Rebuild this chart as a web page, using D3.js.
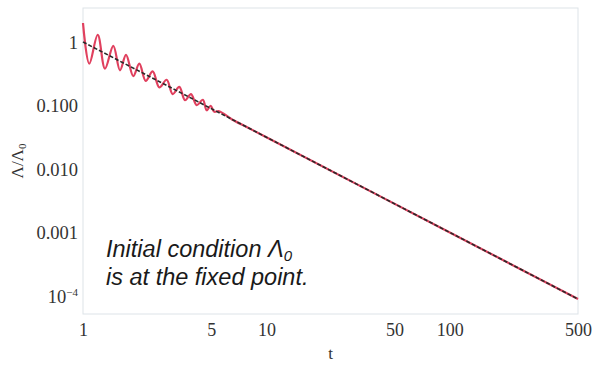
<!DOCTYPE html>
<html><head><meta charset="utf-8">
<script src="https://cdn.jsdelivr.net/npm/d3@7"></script>
<style>body{margin:0;background:#fff}svg{display:block}</style>
</head><body>
<svg id="c" width="597" height="365"></svg>
<script>
// Data
const xTicks = [1, 5, 10, 50, 100, 500];
const yTicks = [1, 0.1, 0.01, 0.001, 0.0001];
const yTickLabels = ["1", "0.100", "0.010", "0.001", "10^-4"];

// power-law reference (black dashed)
const refT = [1, 10, 100, 500];
const refV = [1, 0.0316, 0.00100, 0.0000894];

// numerical solution (red), extremes of the damped oscillation then the tail
const solT = [1, 1.082, 1.203, 1.318, 1.463, 1.591, 1.716, 1.88, 2.028, 2.197, 2.399, 2.606, 2.86, 3.083, 3.35, 3.6, 3.88, 4.17, 4.5, 4.73, 4.97, 5.18, 5.52, 6.5, 8, 10, 100, 500];
const solV = [1.99, 0.455, 1.30, 0.380, 0.870, 0.358, 0.628, 0.290, 0.455, 0.244, 0.344, 0.193, 0.254, 0.151, 0.196, 0.121, 0.151, 0.101, 0.123, 0.084, 0.099, 0.080, 0.081, 0.0603, 0.0442, 0.0316, 0.00100, 0.0000894];

const svg = d3.select("#c");
const L = 83, R = 578, T = 8, B = 314;
const x = d3.scaleLog().domain([1, 500]).range([L, R]);
const y = d3.scaleLog().domain([5.2e-5, 3.43]).range([B, T]);

// frame
svg.append("rect").attr("x", L).attr("y", T).attr("width", R - L).attr("height", B - T)
  .attr("fill", "none").attr("stroke", "#dde3e8").attr("stroke-width", 1);

const line = d3.line().x(d => x(d[0])).y(d => y(d[1]));
svg.append("path").datum(solT.map((t, i) => [t, solV[i]]))
  .attr("d", line.curve(d3.curveCatmullRom.alpha(0.5)))
  .attr("fill", "none").attr("stroke", "#e0405e").attr("stroke-width", 2.2);
svg.append("path").datum(refT.map((t, i) => [t, refV[i]]))
  .attr("d", d3.line().x(d => x(d[0])).y(d => y(d[1])))
  .attr("fill", "none").attr("stroke", "#2a2a2a").attr("stroke-width", 1.6)
  .attr("stroke-dasharray", "4,2");

// axes (labels only)
const xa = d3.axisBottom(x).tickValues(xTicks).tickFormat(d3.format("d")).tickSize(0).tickPadding(6);
const gx = svg.append("g").attr("transform", `translate(0,${B})`).call(xa);
gx.select(".domain").remove();
gx.selectAll("text").attr("font-family", "Liberation Serif, serif").attr("font-size", 18).attr("fill", "#333").attr("dy", "0.9em");

const ya = d3.axisLeft(y).tickValues(yTicks).tickFormat((d, i) => "").tickSize(0).tickPadding(5);
const gy = svg.append("g").attr("transform", `translate(${L},0)`).call(ya);
gy.select(".domain").remove();
gy.selectAll("text").each(function(d, i) {
  const t = d3.select(this).attr("font-family", "Liberation Serif, serif").attr("font-size", 18.5)
    .attr("fill", "#333").attr("dy", "0.35em").attr("x", -5);
  const lab = yTickLabels[i];
  if (lab.includes("^")) {
    const [b, e] = lab.split("^");
    t.append("tspan").text(b);
    t.append("tspan").attr("font-size", 11).attr("dy", "-0.6em").text(e.replace("-", "\u2212"));
  } else t.text(lab);
});

// axis titles
svg.append("text").attr("x", (L + R) / 2).attr("y", 359).attr("text-anchor", "middle")
  .attr("font-family", "Liberation Serif, serif").attr("font-size", 17).attr("fill", "#333").text("t");
const yt = svg.append("text").attr("transform", `translate(23,${(T + B) / 2}) rotate(-90)`)
  .attr("text-anchor", "middle").attr("font-family", "Liberation Serif, serif").attr("font-size", 17).attr("fill", "#333");
yt.append("tspan").text("\u039B/\u039B");
yt.append("tspan").attr("font-size", 11).attr("dy", "0.3em").text("0");

// annotation
const ann = svg.append("text").attr("font-family", "Liberation Sans, Arial, sans-serif")
  .attr("font-style", "italic").attr("font-size", 23.5).attr("fill", "#1a1a1a");
ann.append("tspan").attr("x", 106).attr("y", 257).text("Initial condition \u039B");
ann.append("tspan").attr("font-size", 15).attr("dy", "0.25em").text("0");
ann.append("tspan").attr("x", 106).attr("y", 285).text("is at the fixed point.");
</script>
</body></html>
